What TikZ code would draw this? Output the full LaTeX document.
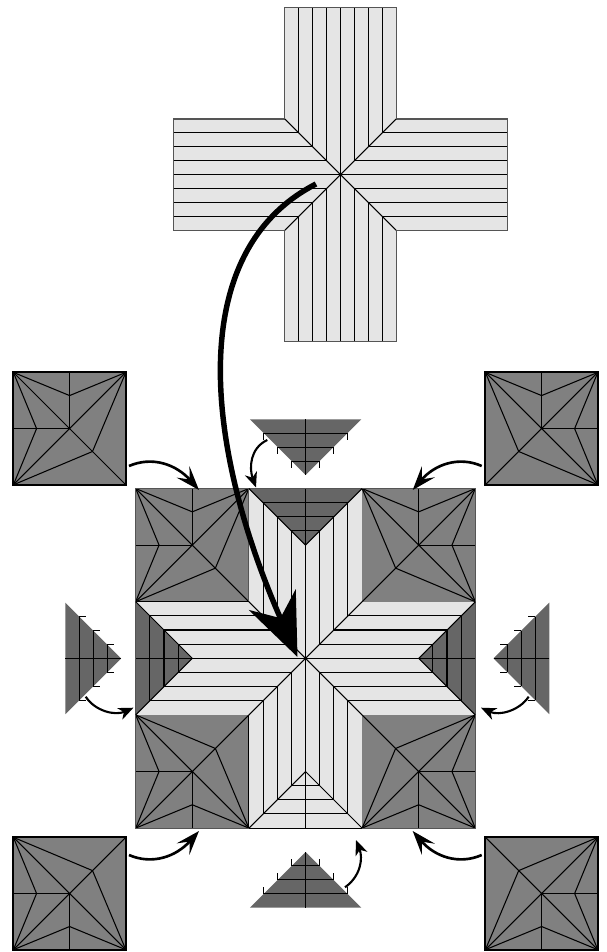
\documentclass[tikz,border=0pt]{standalone}
\usepackage{xcolor}
\usetikzlibrary{arrows.meta}

\definecolor{foldlight}{HTML}{E5E5E5}
\definecolor{foldmid}{HTML}{808080}
\definecolor{folddark}{HTML}{666666}
\definecolor{foldedge}{HTML}{555555}

\begin{document}
\begin{tikzpicture}[
  x=0.02cm, y=-0.02cm,
  every pic/.style={transform shape},
  foldline/.style={black, line width=0.6pt},
  edgeline/.style={foldedge, line width=0.6pt},
  squarefill/.style={fill=foldmid},
  squareedge/.style={},
  tileedge/.style={draw=black, line width=1.1pt},
  trifill/.style={fill=folddark},
  tickline/.style={foldline},
  starpic/.style={scale=14.15},
  bigarrow/.style={-{Stealth[length=1.25cm, width=1.02cm, inset=0.4cm]}, line width=3.1pt},
  cornerarrow/.style={-{Stealth[length=0.48cm, width=0.34cm, inset=0.2cm]}, line width=1.5pt},
  flaparrow/.style={-{Stealth[length=0.3cm, width=0.25cm, inset=0.09cm]}, line width=1.2pt},
  % square tile, one unit = one strip
  foldsquare/.pic={
    \path[squarefill, squareedge] (-4,-4) rectangle (4,4);
    \draw[foldline] (-4,-4) -- (4,4) (-4,4) -- (4,-4);
    \draw[foldline] (0,-4) -- (0,0) (-4,0) -- (0,0);
    \draw[foldline] (-4,-4) -- (0,-2.35) -- (4,-4);
    \draw[foldline] (-4,-4) -- (-2.35,0) -- (-4,4);
    \draw[foldline] (-4,4) -- (1.63,1.63) -- (4,-4);
  },
  % triangular flap, base on the local x axis
  foldtri/.pic={
    \path[trifill] (-4,0) -- (4,0) -- (0,4) -- cycle;
    \draw[foldline] (0,0) -- (0,4);
    \foreach \w in {1,2,3} {
      \draw[foldline] (-\w,4-\w) -- (\w,4-\w);
    }
  },
  fliptri/.pic={
    \pic {foldtri};
    \foreach \w in {1,2,3} {
      \draw[tickline] (-\w,4-\w) -- (-\w,4.5-\w);
      \draw[tickline] (\w,4-\w) -- (\w,4.5-\w);
    }
  }
]
\useasboundingbox (0,0) rectangle (606,952);

% Cross sheet
\begin{scope}[shift={(340.5,174.6)}, scale=13.9]
  \draw[edgeline, fill=foldlight] (-4,-12) -- (4,-12) -- (4,-4) -- (12,-4) -- (12,4) -- (4,4)
    -- (4,12) -- (-4,12) -- (-4,4) -- (-12,4) -- (-12,-4) -- (-4,-4) -- cycle;
  \draw[foldline] (-4,-4) -- (4,4) (-4,4) -- (4,-4);
  \draw[foldline] (0,-12) -- (0,12) (-12,0) -- (12,0);
  \foreach \k in {1,2,3} {
    \foreach \s in {-1,1} {
      \draw[foldline] (\s*\k,-12) -- (\s*\k,-\k);
      \draw[foldline] (\s*\k,12) -- (\s*\k,\k);
      \draw[foldline] (-12,\s*\k) -- (-\k,\s*\k);
      \draw[foldline] (12,\s*\k) -- (\k,\s*\k);
    }
  }
\end{scope}

% Corner tiles around the sheet
\pic[scale=14.05, squareedge/.style={tileedge}] at (69.6,428.6) {foldsquare};
\pic[scale=14.05, xscale=-1, squareedge/.style={tileedge}] at (541.6,428.6) {foldsquare};
\pic[scale=14.05, yscale=-1, squareedge/.style={tileedge}] at (69.6,893.5) {foldsquare};
\pic[scale=14.05, xscale=-1, yscale=-1, squareedge/.style={tileedge}] at (541.6,893.5) {foldsquare};

% Loose flaps
\pic[scale=13.95] at (305.6,419.3) {fliptri};
\pic[scale=13.95, rotate=180] at (305.6,907.7) {fliptri};
\pic[scale=13.95, rotate=90] at (65.3,658.4) {fliptri};
\pic[scale=13.95, rotate=-90] at (549.3,658.4) {fliptri};

% Assembled star
\begin{scope}[shift={(305.5,658.3)}, scale=14.15]
  \fill[foldlight] (-4,-12) rectangle (4,12) (-12,-4) rectangle (12,4);
  \pic[starpic] at (-8,-8) {foldsquare};
  \pic[starpic, xscale=-1] at (8,-8) {foldsquare};
  \pic[starpic, yscale=-1] at (-8,8) {foldsquare};
  \pic[starpic, xscale=-1, yscale=-1] at (8,8) {foldsquare};
  \pic[starpic] at (0,-12) {foldtri};
  \pic[starpic, rotate=90] at (-12,0) {foldtri};
  \pic[starpic, rotate=-90] at (12,0) {foldtri};
  \pic[starpic, rotate=180, trifill/.style={fill=foldlight}] at (0,12) {foldtri};
  \draw[edgeline] (-12,-12) rectangle (12,12);
  \draw[foldline] (-4,-4) -- (4,4) (-4,4) -- (4,-4);
  \draw[foldline] (-4,-12) -- (0,-8) -- (4,-12);
  \draw[foldline] (-4,12) -- (0,8) -- (4,12);
  \draw[foldline] (-12,-4) -- (-8,0) -- (-12,4);
  \draw[foldline] (12,-4) -- (8,0) -- (12,4);
  \draw[foldline] (0,-8) -- (0,8) (-8,0) -- (8,0);
  \draw[edgeline] (-4,-12) -- (-4,-4);
  \draw[foldline] (-4,4) -- (-4,12) (-12,-4) -- (-4,-4);
  \draw[foldline] (-4,12) -- (4,12);
  \foreach \k in {1,2,3} {
    \foreach \s in {-1,1} {
      \draw[foldline] (\s*\k,-8-\k) -- (\s*\k,-\k);
      \draw[foldline] (\s*\k,8+\k) -- (\s*\k,\k);
      \draw[foldline] (-8-\k,\s*\k) -- (-\k,\s*\k);
      \draw[foldline] (8+\k,\s*\k) -- (\k,\s*\k);
    }
  }
\end{scope}

% Arrow ends
\coordinate (sheetstart) at (316,184);
\coordinate (starmid) at (297.5,657);
\coordinate (tlfrom) at (129,466);
\coordinate (tlto) at (199,490);
\coordinate (trfrom) at (481.7,466);
\coordinate (trto) at (412.7,490);
\coordinate (blfrom) at (129,855);
\coordinate (blto) at (199,831);
\coordinate (brfrom) at (481.7,855);
\coordinate (brto) at (412.7,831);
\coordinate (topfrom) at (267.3,440);
\coordinate (topto) at (256,487.5);
\coordinate (leftfrom) at (85.7,696.7);
\coordinate (leftto) at (133.5,707.7);
\coordinate (rightfrom) at (528.7,696.7);
\coordinate (rightto) at (481,707.7);
\coordinate (botfrom) at (345,887.3);
\coordinate (botto) at (356,840);

% Arrows
\draw[bigarrow] (sheetstart) .. controls (187,250) and (202,440) .. (starmid);
\draw[cornerarrow] (tlfrom) .. controls (152,456) and (176,464) .. (tlto);
\draw[cornerarrow] (trfrom) .. controls (459,456) and (435,464) .. (trto);
\draw[cornerarrow] (blfrom) .. controls (152,865) and (176,857) .. (blto);
\draw[cornerarrow] (brfrom) .. controls (459,865) and (435,857) .. (brto);
\draw[flaparrow] (topfrom) .. controls (250,448) and (249,468) .. (topto);
\draw[flaparrow] (leftfrom) .. controls (95,711) and (115,716) .. (leftto);
\draw[flaparrow] (rightfrom) .. controls (519,711) and (499,716) .. (rightto);
\draw[flaparrow] (botfrom) .. controls (361,876) and (363,858) .. (botto);
\end{tikzpicture}
\end{document}
